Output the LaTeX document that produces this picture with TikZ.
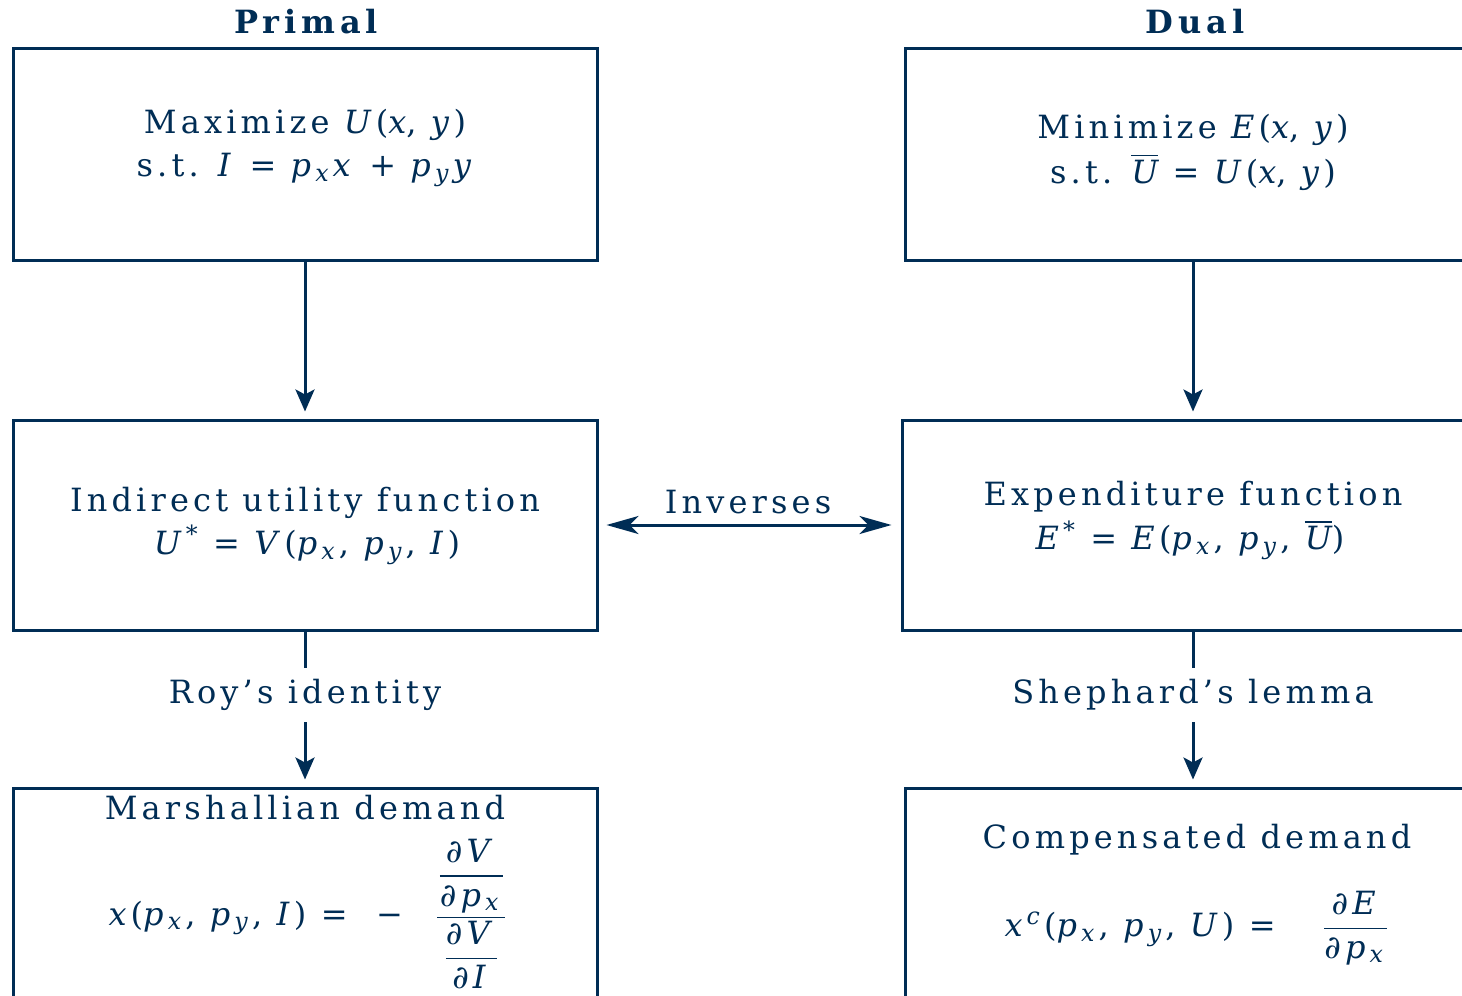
\documentclass[tikz,border=0pt]{standalone}
\usepackage{amsmath}
\usepackage{mathptmx}
\usepackage[no-math]{fontspec}
\setmainfont{DejaVu Serif}[LetterSpace=13]
\usetikzlibrary{arrows.meta}
\definecolor{navy}{RGB}{0,45,85}
\newcommand{\vi}[1]{\textit{#1}}
\newcommand{\vsub}[1]{\textsubscript{\textit{#1}}}
\newcommand{\ubar}{$\overline{\mbox{\itshape U}}$}
\newcommand{\tfr}[2]{\dfrac{\mbox{#1}}{\mbox{#2}}}
\begin{document}
\begin{tikzpicture}[x=0.5pt,y=-0.5pt,
  box/.style={draw=navy, line width=1.5pt, inner sep=0pt},
  txt/.style={text=navy, font=\fontsize{16}{19}\selectfont, inner sep=0pt},
  ttl/.style={text=navy, font=\fontsize{16}{19}\selectfont\bfseries\addfontfeatures{LetterSpace=15}, inner sep=0pt},
  conn/.style={draw=navy, line width=1.5pt},
  arr/.style={conn, -{Stealth[length=11pt,width=9.5pt,inset=2.5pt]}},
  dbl/.style={conn, {Stealth[length=16pt,width=9pt,inset=4.5pt]}-{Stealth[length=16pt,width=9pt,inset=4.5pt]}}]
\useasboundingbox (0,0) rectangle (1462,996);
\clip (0,0) rectangle (1462,996);
\fill[white] (0,0) rectangle (1462,996);

% titles
\node[ttl] (primal) at (306,22) {Primal};
\node[ttl] (dual) at (1195,22) {Dual};

% boxes
\node[box, minimum width=292pt, minimum height=106pt] (tl) at (305,154) {};
\node[box, minimum width=288pt, minimum height=106pt] (tr) at (1193,154) {};
\node[box, minimum width=292pt, minimum height=105pt] (ml) at (305,525) {};
\node[box, minimum width=291pt, minimum height=105pt] (mr) at (1193,525) {};
\node[box, minimum width=292pt, minimum height=111pt] (bl) at (305,899) {};
\node[box, minimum width=288pt, minimum height=111pt] (br) at (1193,899) {};

% box texts
\node[txt] (tl1) at (305,125) {Maximize \vi{U}(\vi{x}, \vi{y})};
\node[txt] (tl2) at (306,170) {s.t. \vi{I} = \vi{p}\vsub{x}\vi{x} + \vi{p}\vsub{y}\vi{y}};
\node[txt] (tr1) at (1193,130) {Minimize \vi{E}(\vi{x}, \vi{y})};
\node[txt] (tr2) at (1193,172) {s.t. \ubar{} = \vi{U}(\vi{x}, \vi{y})};
\node[txt] (ml1) at (305,503) {Indirect utility function};
\node[txt] (ml2) at (307,545) {\vi{U}\textsuperscript{*} = \vi{V}(\vi{p}\vsub{x}, \vi{p}\vsub{y}, \vi{I})};
\node[txt] (mr1) at (1193,497) {Expenditure function};
\node[txt] (mr2) at (1190,540) {\vi{E}\textsuperscript{*} = \vi{E}(\vi{p}\vsub{x}, \vi{p}\vsub{y}, \ubar)};
\node[txt] (bl1) at (305,808) {Marshallian demand};
\node[txt] (bl2) at (308,914) {\vi{x}(\vi{p}\vsub{x}, \vi{p}\vsub{y}, \vi{I}) = \ −\quad $\dfrac{\tfr{\vi{∂V}}{\vi{∂p}\vsub{x}}}{\tfr{\vi{∂V}}{\vi{∂I}}}$};
\node[txt] (br1) at (1197,840) {Compensated demand};
\node[txt] (br2) at (1197,928) {\vi{x}\textsuperscript{\vi{c}}(\vi{p}\vsub{x}, \vi{p}\vsub{y}, \vi{U}) = \quad $\tfr{\vi{∂E}}{\vi{∂p}\vsub{x}}$};

% connector labels
\node[txt, minimum height=27pt] (roy) at (305,695) {Roy's identity};
\node[txt, minimum height=27pt] (shep) at (1193,695) {Shephard's lemma};
\node[txt] (inv) at (748,502) {Inverses};

% connectors
\draw[arr, shorten >=3.5pt] (tl.south) -- (ml.north);
\draw[arr, shorten >=3.5pt] (tr.south) -- (mr.north);
\draw[conn] (ml.south) -- (roy.north);
\draw[arr, shorten >=3.5pt] (roy.south) -- (bl.north);
\draw[conn] (mr.south) -- (shep.north);
\draw[arr, shorten >=3.5pt] (shep.south) -- (br.north);
\draw[dbl, shorten <=4pt, shorten >=4.5pt] (ml.east) -- (mr.west);
\end{tikzpicture}
\end{document}
